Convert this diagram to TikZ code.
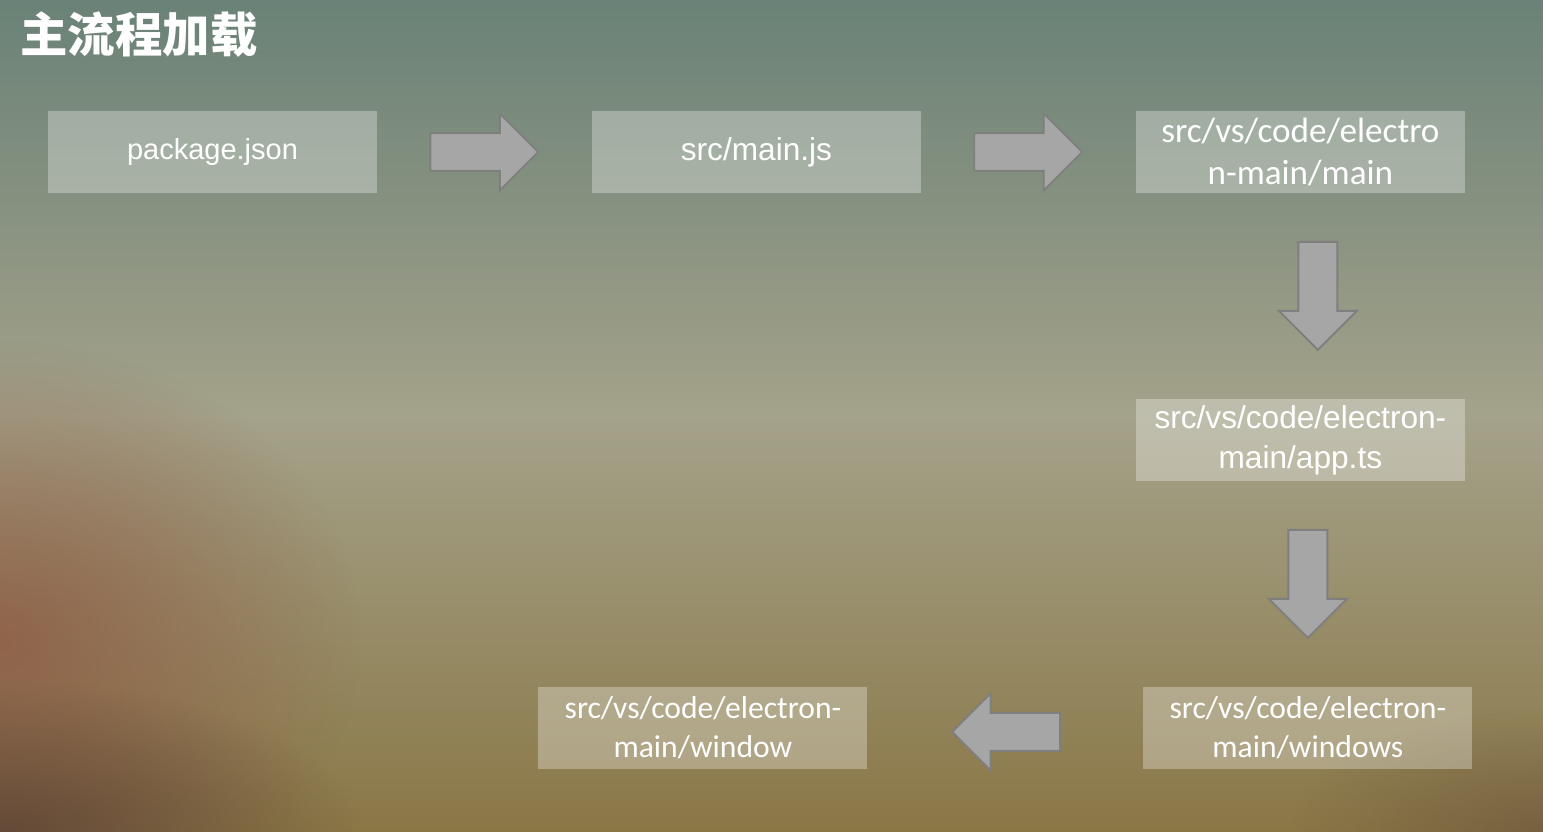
\documentclass[tikz,border=0pt]{standalone}
\usepackage{fontspec}
\setmainfont{Liberation Sans}
\newfontfamily\calibri{Carlito}
\newfontfamily\cjk{Noto Sans CJK SC}
\usetikzlibrary{shapes.arrows,positioning,fadings}

\definecolor{bgtop}{HTML}{6A8277}
\definecolor{bgmid}{HTML}{A4A28A}
\definecolor{bgbot}{HTML}{8A7746}
\definecolor{rust}{HTML}{8E5A44}
\definecolor{dusk}{HTML}{5A4034}
\definecolor{arrowfill}{HTML}{A6A6A6}
\definecolor{arrowline}{HTML}{7F7F7F}

\tikzfading[name=softspot, inner color=transparent!20, outer color=transparent!100]

\begin{document}
\begin{tikzpicture}[
        x=0.02cm, y=-0.02cm,
        node distance=0.95cm and 1.04cm,
        box/.style={fill=white, fill opacity=0.3, text opacity=1, text=white, inner sep=0pt,
            minimum width=6.58cm, minimum height=1.64cm, align=center},
        blockarrow/.style={single arrow, draw=arrowline, fill=arrowfill, line width=1.1pt,
            minimum height=2.16cm, inner xsep=0pt, inner ysep=0.36cm,
            single arrow head extend=0.39cm, single arrow tip angle=90},
        downarrow/.style={blockarrow, shape border rotate=270, inner xsep=0.37cm, inner ysep=0pt}
    ]

    % Background
    \useasboundingbox (0,0) rectangle (1543,832);
    \shade[top color=bgtop, bottom color=bgbot, middle color=bgmid] (0,0) rectangle (1543,832);
    \fill[rust, path fading=softspot] (-360,340) rectangle (360,940);
    \fill[dusk, path fading=softspot] (-360,680) rectangle (360,984);
    \fill[dusk, path fading=softspot, opacity=0.5] (1290,710) rectangle (1796,954);

    % Title
    \node[anchor=west, inner sep=0pt, text=white, font=\cjk\bfseries\fontsize{27}{27}\selectfont] (title) at (20,35) {主流程加载};

    % Nodes
      \node[box, font=\fontsize{16.5}{20}\selectfont] (pkg) at (212.5,152) {package.json};
      \node[blockarrow, right=of pkg] (a1) {};
      \node[box, right=of a1, font=\fontsize{18}{22}\selectfont] (mainjs) {src/main.js};
      \node[blockarrow, right=of mainjs] (a2) {};
      \node[box, right=of a2, font=\calibri\fontsize{20}{24.4}\selectfont] (emain) {src/vs/code/electro\\n-main/main};

      \node[downarrow, below=of emain, xshift=0.35cm] (a3) {};
      \node[box, below=of a3, xshift=-0.35cm, font=\fontsize{18}{22.7}\selectfont] (app) {src/vs/code/electron-\\main/app.ts};

      \node[downarrow, below=of app, xshift=0.15cm] (a4) {};
      \node[box, below=of a4, font=\calibri\fontsize{18}{22}\selectfont] (wins) {src/vs/code/electron-\\main/windows};

      \node[blockarrow, shape border rotate=180, left=1.64cm of wins, yshift=-0.08cm] (a5) {};
      \node[box, left=1.66cm of a5, yshift=0.08cm, font=\calibri\fontsize{18}{22}\selectfont] (win) {src/vs/code/electron-\\main/window};

    \end{tikzpicture}
\end{document}
